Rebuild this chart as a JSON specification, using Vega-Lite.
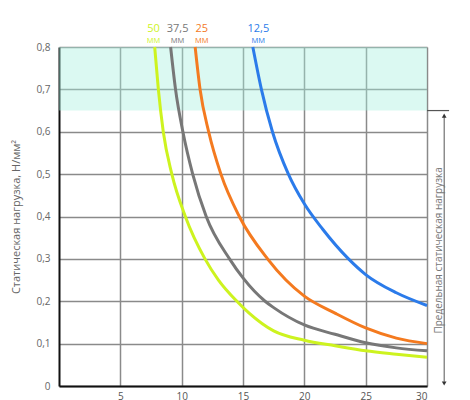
{
  "$schema": "https://vega.github.io/schema/vega-lite/v6.json",
  "width": 368,
  "height": 339,
  "autosize": {"type": "none"},
  "padding": {"left": 59, "top": 47, "right": 43, "bottom": 14},
  "background": "white",
  "config": {
    "view": {"stroke": null},
    "font": "Open Sans",
    "axis": {"labelFont": "Open Sans", "titleFont": "Open Sans"}
  },
  "datasets": {
    "curves": [
      {"x": 7.8, "y": 0.8, "series": "50"},
      {"x": 8.1, "y": 0.7, "series": "50"},
      {"x": 8.5, "y": 0.6, "series": "50"},
      {"x": 9.2, "y": 0.5, "series": "50"},
      {"x": 10.3, "y": 0.4, "series": "50"},
      {"x": 11.9, "y": 0.3, "series": "50"},
      {"x": 13.0, "y": 0.25, "series": "50"},
      {"x": 14.5, "y": 0.2, "series": "50"},
      {"x": 15.5, "y": 0.172, "series": "50"},
      {"x": 17.5, "y": 0.13, "series": "50"},
      {"x": 20, "y": 0.108, "series": "50"},
      {"x": 22.5, "y": 0.095, "series": "50"},
      {"x": 25, "y": 0.083, "series": "50"},
      {"x": 27.5, "y": 0.075, "series": "50"},
      {"x": 30, "y": 0.068, "series": "50"},
      {"x": 9.1, "y": 0.8, "series": "37,5"},
      {"x": 9.5, "y": 0.7, "series": "37,5"},
      {"x": 10.1, "y": 0.6, "series": "37,5"},
      {"x": 10.9, "y": 0.5, "series": "37,5"},
      {"x": 12.0, "y": 0.4, "series": "37,5"},
      {"x": 13.9, "y": 0.3, "series": "37,5"},
      {"x": 15.0, "y": 0.255, "series": "37,5"},
      {"x": 16.8, "y": 0.2, "series": "37,5"},
      {"x": 17.5, "y": 0.185, "series": "37,5"},
      {"x": 20, "y": 0.144, "series": "37,5"},
      {"x": 22.5, "y": 0.122, "series": "37,5"},
      {"x": 25, "y": 0.102, "series": "37,5"},
      {"x": 27.5, "y": 0.09, "series": "37,5"},
      {"x": 30, "y": 0.083, "series": "37,5"},
      {"x": 11.1, "y": 0.8, "series": "25"},
      {"x": 11.5, "y": 0.7, "series": "25"},
      {"x": 12.2, "y": 0.6, "series": "25"},
      {"x": 13.2, "y": 0.5, "series": "25"},
      {"x": 14.7, "y": 0.4, "series": "25"},
      {"x": 17.0, "y": 0.3, "series": "25"},
      {"x": 18.5, "y": 0.25, "series": "25"},
      {"x": 20, "y": 0.212, "series": "25"},
      {"x": 22.5, "y": 0.172, "series": "25"},
      {"x": 25, "y": 0.137, "series": "25"},
      {"x": 27.5, "y": 0.113, "series": "25"},
      {"x": 30, "y": 0.1, "series": "25"},
      {"x": 15.8, "y": 0.8, "series": "12,5"},
      {"x": 16.5, "y": 0.7, "series": "12,5"},
      {"x": 17.4, "y": 0.6, "series": "12,5"},
      {"x": 18.7, "y": 0.5, "series": "12,5"},
      {"x": 20, "y": 0.43, "series": "12,5"},
      {"x": 21.5, "y": 0.37, "series": "12,5"},
      {"x": 23.6, "y": 0.3, "series": "12,5"},
      {"x": 25, "y": 0.263, "series": "12,5"},
      {"x": 27.5, "y": 0.22, "series": "12,5"},
      {"x": 30, "y": 0.19, "series": "12,5"}
    ],
    "labels": [
      {"x": 7.7, "series": "50"},
      {"x": 9.67, "series": "37,5"},
      {"x": 11.64, "series": "25"},
      {"x": 16.25, "series": "12,5"}
    ]
  },
  "layer": [
    {
      "data": {"values": [{"x": 0, "x2": 30, "y": 0.65, "y2": 0.8}]},
      "mark": {"type": "rect", "color": "#a4f0df", "opacity": 0.4},
      "encoding": {
        "x": {"field": "x", "type": "quantitative", "scale": {"domain": [0, 30], "nice": false}},
        "x2": {"field": "x2"},
        "y": {"field": "y", "type": "quantitative", "scale": {"domain": [0, 0.8], "nice": false}},
        "y2": {"field": "y2"}
      }
    },
    {
      "data": {"name": "curves"},
      "mark": {"type": "line", "interpolate": "monotone", "strokeWidth": 3},
      "encoding": {
        "x": {
          "field": "x",
          "type": "quantitative",
          "scale": {"domain": [0, 30], "nice": false},
          "axis": {
            "title": null,
            "values": [5, 10, 15, 20, 25, 30],
            "ticks": false,
            "labelFontSize": 10,
            "labelColor": "#555",
            "labelPadding": 5,
            "gridColor": "#8a8a8a",
            "gridWidth": 1.5,
            "gridOpacity": 1,
            "domainColor": "#111",
            "domainWidth": 2
          }
        },
        "y": {
          "field": "y",
          "type": "quantitative",
          "scale": {"domain": [0, 0.8], "nice": false},
          "axis": {
            "title": "Статическая нагрузка, Н/мм²",
            "titleFontSize": 11,
            "titleFontWeight": "normal",
            "titleColor": "#666",
            "titlePadding": 14,
            "values": [0, 0.1, 0.2, 0.3, 0.4, 0.5, 0.6, 0.7, 0.8],
            "labelExpr": "datum.value == 0 ? '0' : replace(format(datum.value, '.1f'), '.', ',')",
            "ticks": false,
            "labelFontSize": 10,
            "labelColor": "#666",
            "labelPadding": 9,
            "gridColor": "#8a8a8a",
            "gridWidth": 1.5,
            "gridOpacity": 1,
            "domainColor": "#111",
            "domainWidth": 2
          }
        },
        "color": {
          "field": "series",
          "type": "nominal",
          "scale": {
            "domain": ["50", "37,5", "25", "12,5"],
            "range": ["#cdf31f", "#777777", "#f47a1f", "#2b7bea"]
          },
          "legend": null
        }
      }
    },
    {
      "data": {"name": "labels"},
      "mark": {"type": "text", "fontSize": 11, "baseline": "middle"},
      "encoding": {
        "x": {"field": "x", "type": "quantitative"},
        "y": {"datum": 0.843},
        "text": {"field": "series"},
        "color": {"field": "series", "type": "nominal", "legend": null}
      }
    },
    {
      "data": {"name": "labels"},
      "mark": {"type": "text", "fontSize": 7.5, "baseline": "middle", "text": "ММ"},
      "encoding": {
        "x": {"field": "x", "type": "quantitative"},
        "y": {"datum": 0.813},
        "color": {"field": "series", "type": "nominal", "legend": null}
      }
    },
    {
      "data": {"values": [{"x": 30, "x2": 31.8, "y": 0.65}]},
      "mark": {"type": "rule", "color": "#555", "strokeWidth": 1.2},
      "encoding": {
        "x": {"field": "x", "type": "quantitative"},
        "x2": {"field": "x2"},
        "y": {"field": "y", "type": "quantitative"}
      }
    },
    {
      "data": {"values": [{"x": 31.4, "y": 0.635, "y2": 0.01}]},
      "mark": {"type": "rule", "color": "#555", "strokeWidth": 1},
      "encoding": {
        "x": {"field": "x", "type": "quantitative"},
        "y": {"field": "y", "type": "quantitative"},
        "y2": {"field": "y2"}
      }
    },
    {
      "data": {"values": [{"x": 31.4, "y": 0.638, "shape": "triangle-up"}, {"x": 31.4, "y": 0.006, "shape": "triangle-down"}]},
      "mark": {"type": "point", "filled": true, "size": 22, "color": "#333", "opacity": 1},
      "encoding": {
        "x": {"field": "x", "type": "quantitative"},
        "y": {"field": "y", "type": "quantitative"},
        "shape": {"field": "shape", "type": "nominal", "scale": null}
      }
    },
    {
      "data": {"values": [{"x": 30.95, "y": 0.32, "text": "Предельная статическая нагрузка"}]},
      "mark": {"type": "text", "angle": 270, "fontSize": 10, "color": "#777", "baseline": "middle", "align": "center"},
      "encoding": {
        "x": {"field": "x", "type": "quantitative"},
        "y": {"field": "y", "type": "quantitative"},
        "text": {"field": "text"}
      }
    }
  ]
}
